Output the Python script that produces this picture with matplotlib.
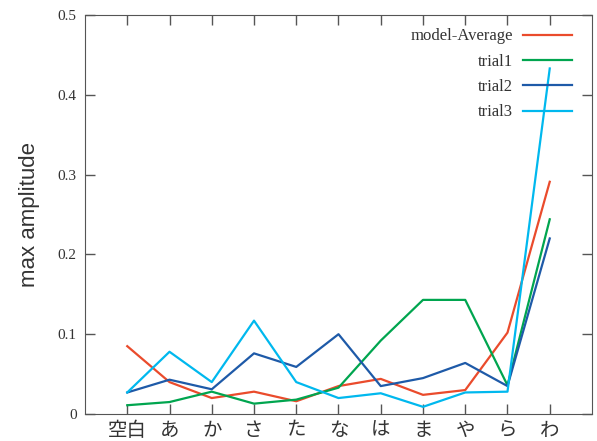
import numpy as np
import matplotlib.pyplot as plt

categories = ['空白', 'あ', 'か', 'さ', 'た', 'な', 'は', 'ま', 'や', 'ら', 'わ']
model_avg = [0.085, 0.040, 0.020, 0.028, 0.016, 0.035, 0.044, 0.024, 0.030, 0.102, 0.291]
trial1 = [0.011, 0.015, 0.028, 0.013, 0.018, 0.033, 0.092, 0.143, 0.143, 0.036, 0.244]
trial2 = [0.027, 0.043, 0.031, 0.076, 0.059, 0.100, 0.035, 0.045, 0.064, 0.035, 0.220]
trial3 = [0.027, 0.078, 0.040, 0.117, 0.040, 0.020, 0.026, 0.009, 0.027, 0.028, 0.433]

fig = plt.figure(figsize=(5.97, 4.41), dpi=100)
ax = fig.add_axes([0.1424, 0.0612, 0.8492, 0.9048])

x = np.arange(len(categories))
ax.plot(x, model_avg, color='#EA4B2C', lw=1.6, label='model-Average')
ax.plot(x, trial1, color='#00A54F', lw=1.6, label='trial1')
ax.plot(x, trial2, color='#1E5AA8', lw=1.6, label='trial2')
ax.plot(x, trial3, color='#00B8EE', lw=1.6, label='trial3')

ax.set_xlim(-1, 11)
ax.set_ylim(0, 0.5)
ax.set_xticks(x)
ax.set_xticklabels(categories, fontsize=14, family=['Noto Sans CJK JP', 'DejaVu Sans'], color='#333333')
ax.set_yticks([0, 0.1, 0.2, 0.3, 0.4, 0.5])
ax.set_yticklabels(['0', '0.1', '0.2', '0.3', '0.4', '0.5'], fontsize=11,
                   family='Liberation Serif', color='#333333')
ax.tick_params(direction='in', top=True, right=True, length=7, width=1, color='#555555')
ax.tick_params(axis='x', pad=4)
ax.tick_params(axis='y', pad=6)
for s in ax.spines.values():
    s.set_color('#555555')

ax.set_ylabel('max amplitude', fontsize=16, family='Liberation Sans', color='#333333', labelpad=13)

leg = ax.legend(loc='upper right', bbox_to_anchor=(0.973, 0.983), frameon=False, markerfirst=False,
                prop={'family': 'Liberation Serif', 'size': 12},
                handlelength=2.9, handletextpad=0.6, labelspacing=0.56, borderaxespad=0)
for t in leg.get_texts():
    t.set_color('#333333')

fig.savefig('out.png', dpi=100)
